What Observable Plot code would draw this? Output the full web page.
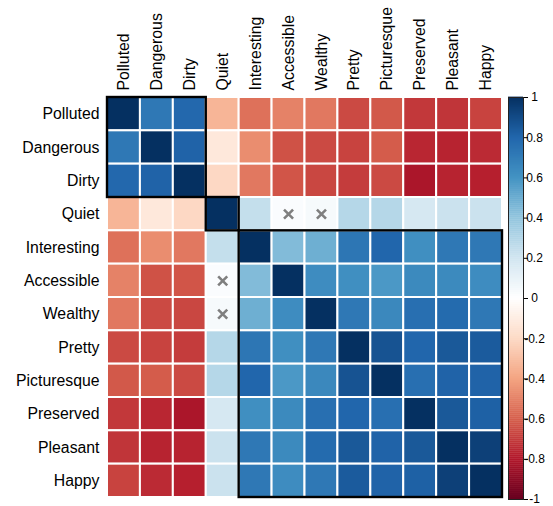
<!DOCTYPE html>
<html>
<head>
<meta charset="utf-8">
<script src="https://cdn.jsdelivr.net/npm/d3@7"></script>
<script src="https://cdn.jsdelivr.net/npm/@observablehq/plot@0.6"></script>
<style>
  html, body { margin: 0; padding: 0; background: #fff; }
  #wrap { position: relative; width: 553px; height: 506px; }
  #wrap svg { position: absolute; top: 0; }
</style>
</head>
<body>
<div id="wrap"></div>
<script>
const vars = ["Polluted","Dangerous","Dirty","Quiet","Interesting","Accessible","Wealthy","Pretty","Picturesque","Preserved","Pleasant","Happy"];

const corr = [
  [ 1.00,  0.72,  0.79, -0.34, -0.55, -0.50, -0.53, -0.66, -0.62, -0.71, -0.72, -0.68],
  [ 0.72,  1.00,  0.81, -0.13, -0.47, -0.64, -0.66, -0.68, -0.61, -0.76, -0.77, -0.75],
  [ 0.79,  0.81,  1.00, -0.21, -0.53, -0.63, -0.67, -0.70, -0.66, -0.82, -0.77, -0.78],
  [-0.34, -0.13, -0.21,  1.00,  0.24,  0.02,  0.04,  0.29,  0.29,  0.18,  0.22,  0.22],
  [-0.55, -0.47, -0.53,  0.24,  1.00,  0.44,  0.49,  0.73,  0.80,  0.62,  0.72,  0.72],
  [-0.50, -0.64, -0.63,  0.02,  0.44,  1.00,  0.63,  0.62,  0.58,  0.64,  0.64,  0.63],
  [-0.53, -0.66, -0.67,  0.04,  0.49,  0.63,  1.00,  0.72,  0.65,  0.76,  0.78,  0.72],
  [-0.66, -0.68, -0.70,  0.29,  0.73,  0.62,  0.72,  1.00,  0.87,  0.80,  0.85,  0.84],
  [-0.62, -0.61, -0.66,  0.29,  0.80,  0.58,  0.65,  0.87,  1.00,  0.76,  0.81,  0.81],
  [-0.71, -0.76, -0.82,  0.18,  0.62,  0.64,  0.76,  0.80,  0.76,  1.00,  0.85,  0.82],
  [-0.72, -0.77, -0.77,  0.22,  0.72,  0.64,  0.78,  0.85,  0.81,  0.85,  1.00,  0.94],
  [-0.68, -0.75, -0.78,  0.22,  0.72,  0.63,  0.72,  0.84,  0.81,  0.82,  0.94,  1.00]
];

// non-significant pairs (marked with a cross)
const insignificant = [["Quiet","Accessible"],["Quiet","Wealthy"],["Accessible","Quiet"],["Wealthy","Quiet"]];

// hierarchical clusters (start index, end index exclusive)
const clusters = [[0,3],[3,4],[4,12]];

const legendTicks = [1, 0.8, 0.6, 0.4, 0.2, 0, -0.2, -0.4, -0.6, -0.8, -1];

const rdbuColors = ["#67001F","#B2182B","#D6604D","#F4A582","#FDDBC7","#FFFFFF","#D1E5F0","#92C5DE","#4393C3","#2166AC","#053061"];
const colorScale = {
  type: "linear",
  domain: d3.range(11).map(i => -1 + i * 0.2),
  range: rdbuColors,
  interpolate: "rgb"
};

const cells = [];
corr.forEach((row, i) => row.forEach((v, j) => cells.push({row: i, col: j, value: v})));
const crosses = insignificant.map(([r, c]) => ({row: vars.indexOf(r), col: vars.indexOf(c)}));
const centers = vars.map((_, i) => i + 0.5);
const fontFamily = "'Liberation Sans', Arial, Helvetica, sans-serif";

const main = Plot.plot({
  width: 553,
  height: 506,
  marginLeft: 107,
  marginRight: 51,
  marginTop: 97,
  marginBottom: 9,
  style: {fontFamily, fontSize: "15.8px", color: "#000", background: "transparent"},
  x: {domain: [0, vars.length], axis: null},
  y: {domain: [0, vars.length], reverse: true, axis: null},
  color: colorScale,
  marks: [
    Plot.rect(cells, {
      x1: d => d.col, x2: d => d.col + 1,
      y1: d => d.row, y2: d => d.row + 1,
      fill: "value", stroke: "#fff", strokeWidth: 2
    }),
    Plot.dot(crosses, {
      x: d => d.col + 0.5, y: d => d.row + 0.5,
      symbol: "times", r: 4.2, stroke: "#7f7f7f", strokeWidth: 2.6
    }),
    Plot.rect(clusters, {
      x1: d => d[0], x2: d => d[1], y1: d => d[0], y2: d => d[1],
      fill: "none", stroke: "#000", strokeWidth: 2.4
    }),
    Plot.axisX({
      anchor: "top", ticks: centers, tickSize: 0, tickPadding: 7, label: null,
      tickRotate: -90, tickFormat: d => vars[Math.floor(d)], fontSize: 15.8
    }),
    Plot.axisY({
      anchor: "left", ticks: centers, tickSize: 0, tickPadding: 8, label: null,
      tickFormat: d => vars[Math.floor(d)], fontSize: 15.8
    })
  ]
});
main.style.left = "0px";

const stops = d3.range(200).map(i => ({lo: -1 + i * 0.01, hi: -1 + (i + 1) * 0.01}));

const bar = Plot.plot({
  width: 45,
  height: 506,
  marginLeft: 0,
  marginRight: 30,
  marginTop: 97,
  marginBottom: 7,
  style: {fontFamily, fontSize: "12px", color: "#000", background: "transparent"},
  y: {domain: [-1, 1], axis: null},
  color: colorScale,
  marks: [
    Plot.rect(stops, {y1: "lo", y2: d => d.hi + 0.002, fill: d => (d.lo + d.hi) / 2}),
    Plot.frame({stroke: "#222", strokeWidth: 1}),
    Plot.axisY({
      anchor: "right", ticks: legendTicks, tickSize: 4, tickPadding: 7, label: null,
      textAnchor: "middle", fontSize: 12,
      tickFormat: d => String(+d.toFixed(1))
    })
  ]
});
bar.style.left = "508px";

const wrap = document.getElementById("wrap");
wrap.appendChild(main);
wrap.appendChild(bar);
</script>
</body>
</html>
